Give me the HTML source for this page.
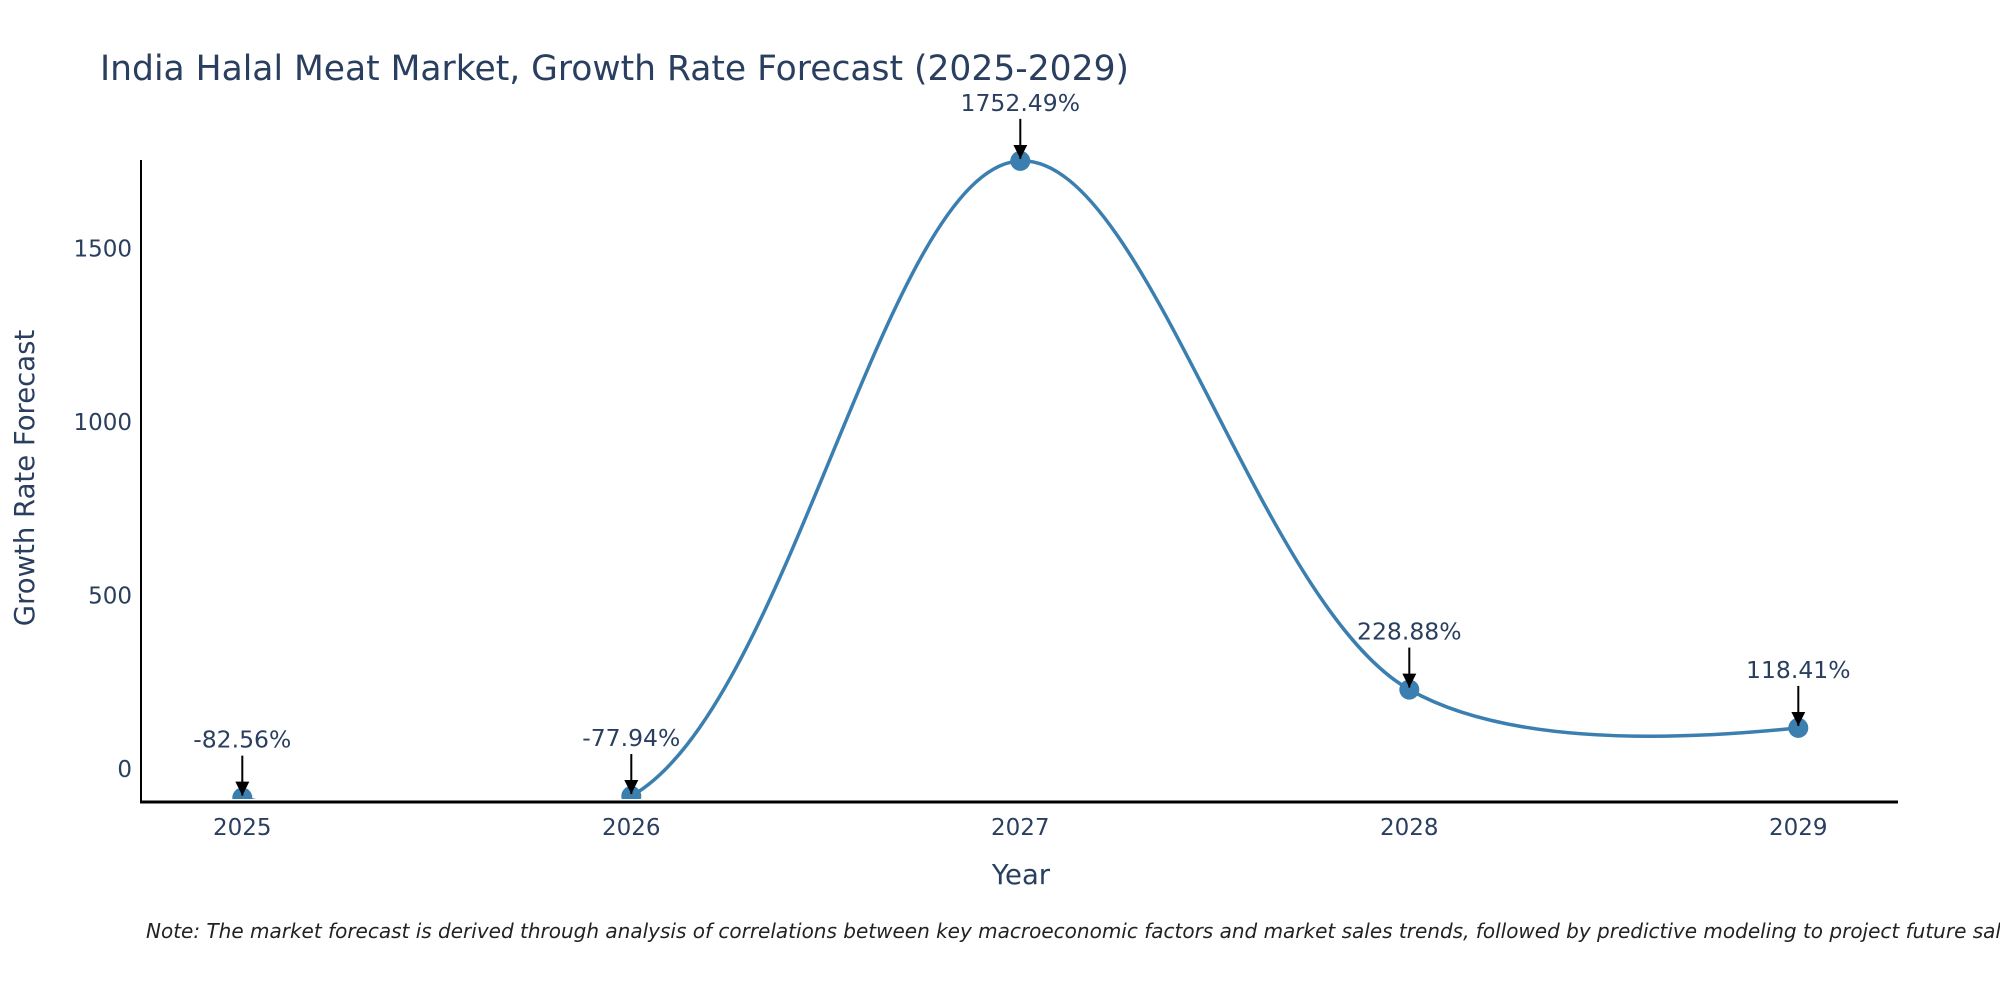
<!DOCTYPE html>
<html><head><meta charset="utf-8"><style>
html,body{margin:0;padding:0;background:#fff;}
svg{display:block;font-family:"DejaVu Sans","Liberation Sans",sans-serif;}
</style></head><body>
<svg id="chart" width="2000" height="1000" viewBox="0 0 2000 1000">
<defs><marker id="ah" viewBox="0 0 10 10" refX="10" refY="5" markerWidth="7" markerHeight="7" orient="auto"><path d="M0,0 L10,5 L0,10 z" fill="#000"/></marker></defs>
<text x="100" y="80" font-size="34.5" fill="#2a3f5f">India Halal Meat Market, Growth Rate Forecast (2025-2029)</text>
<text transform="translate(34,478) rotate(-90)" text-anchor="middle" font-size="27.5" fill="#2a3f5f">Growth Rate Forecast</text>
<text x="1021" y="884" text-anchor="middle" font-size="27.5" fill="#2a3f5f">Year</text>
<text x="146" y="938" font-size="20" font-style="italic" fill="#222">Note: The market forecast is derived through analysis of correlations between key macroeconomic factors and market sales trends, followed by predictive modeling to project future sales.</text>
<g id="plot"></g>
</svg>
<script>
const years = [2025, 2026, 2027, 2028, 2029];
const values = [-82.56, -77.94, 1752.49, 228.88, 118.41];
const labels = ["-82.56%", "-77.94%", "1752.49%", "228.88%", "118.41%"];
const yTicks = [0, 500, 1000, 1500];

const NS = "http://www.w3.org/2000/svg";
const g = document.getElementById('plot');
function X(v){ return 242.3 + (v - 2025) * 389; }
function Y(v){ return 769 - v * 0.347; }
function mk(tag, attrs, parent){ const e=document.createElementNS(NS,tag); for(const k in attrs) e.setAttribute(k,attrs[k]); (parent||g).appendChild(e); return e; }

const clip = mk('clipPath',{id:'pc'}); mk('rect',{x:141,y:0,width:1760,height:799},clip);

yTicks.forEach(t=>{
  const e = mk('text',{x:132,y:Y(t)+8,'text-anchor':'end','font-size':23,fill:'#2a3f5f'});
  e.textContent = t;
  
  
});
years.forEach(yr=>{
  const e = mk('text',{x:X(yr),y:835,'text-anchor':'middle','font-size':23,fill:'#2a3f5f'});
  e.textContent = yr;
  
  
});

const pts = years.map((yr,i)=>[X(yr),Y(values[i])]);
function tangent(a,b,c,s){
  const d1x=a[0]-b[0], d1y=a[1]-b[1], d2x=c[0]-b[0], d2y=c[1]-b[1];
  const d1a=Math.pow(d1x*d1x+d1y*d1y,0.25), d2a=Math.pow(d2x*d2x+d2y*d2y,0.25);
  const nx=(d2a*d2a*d1x-d1a*d1a*d2x)*s, ny=(d2a*d2a*d1y-d1a*d1a*d2y)*s;
  const den1=3*d2a*(d1a+d2a), den2=3*d1a*(d1a+d2a);
  return [[b[0]+nx/den1,b[1]+ny/den1],[b[0]-nx/den2,b[1]-ny/den2]];
}
const tg=[];
for(let i=1;i<pts.length-1;i++) tg.push(tangent(pts[i-1],pts[i],pts[i+1],1));
const P=p=>p[0]+','+p[1];
let d='M'+P(pts[0])+' Q'+P(tg[0][0])+' '+P(pts[1]);
for(let i=1;i<pts.length-2;i++) d+=' C'+P(tg[i-1][1])+' '+P(tg[i][0])+' '+P(pts[i+1]);
d+=' Q'+P(tg[tg.length-1][1])+' '+P(pts[pts.length-1]);

const line = mk('path',{d:d,fill:'none',stroke:'#3a7fb0','stroke-width':3.5,'clip-path':'url(#pc)'});



pts.forEach((p,i)=>{
  const c = mk('circle',{cx:p[0],cy:p[1],r:10,fill:'#3a7fb0','clip-path':'url(#pc)'});
  
  
});

const ax = mk('line',{x1:140,y1:802,x2:1898,y2:802,stroke:'#000','stroke-width':3});


const ay = mk('line',{x1:141,y1:160,x2:141,y2:803,stroke:'#000','stroke-width':2});



pts.forEach((p,i)=>{
  const a = mk('line',{x1:p[0],y1:p[1]-42,x2:p[0],y2:p[1]-2,stroke:'#000','stroke-width':2,'marker-end':'url(#ah)'});
  
  
  const t = mk('text',{x:p[0],y:p[1]-50,'text-anchor':'middle','font-size':23.5,fill:'#2a3f5f'});
  t.textContent = labels[i];
  
  
});
</script>
</body></html>
